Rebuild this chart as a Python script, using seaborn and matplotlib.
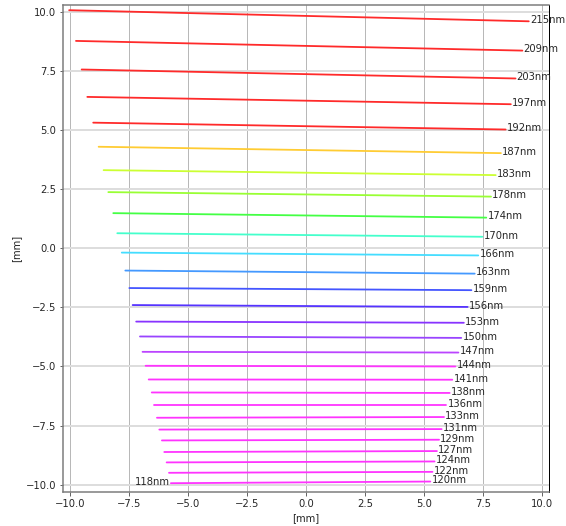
import matplotlib
matplotlib.use("Agg")
import matplotlib.pyplot as plt
import seaborn as sns
import pandas as pd

# wavelength label at the right end of each line
labels = ['215nm', '209nm', '203nm', '197nm', '192nm', '187nm', '183nm', '178nm',
          '174nm', '170nm', '166nm', '163nm', '159nm', '156nm', '153nm', '150nm',
          '147nm', '144nm', '141nm', '138nm', '136nm', '133nm', '131nm', '129nm',
          '127nm', '124nm', '122nm', '120nm']
x_start = [-10.04, -9.75, -9.51, -9.27, -9.02, -8.79, -8.58, -8.38, -8.17, -8.00,
           -7.81, -7.66, -7.49, -7.35, -7.20, -7.04, -6.93, -6.80, -6.67, -6.54,
           -6.43, -6.32, -6.22, -6.11, -6.01, -5.91, -5.81, -5.73]
y_start = [10.08, 8.78, 7.57, 6.41, 5.32, 4.30, 3.31, 2.38, 1.49, 0.64,
           -0.18, -0.94, -1.68, -2.40, -3.10, -3.73, -4.38, -4.97, -5.55, -6.10,
           -6.64, -7.17, -7.67, -8.13, -8.62, -9.06, -9.50, -9.94]
x_end = [9.43, 9.16, 8.87, 8.67, 8.45, 8.25, 8.03, 7.83, 7.63, 7.46,
         7.29, 7.14, 7.00, 6.84, 6.68, 6.57, 6.45, 6.32, 6.19, 6.08,
         5.94, 5.84, 5.74, 5.63, 5.54, 5.44, 5.35, 5.26]
y_end = [9.61, 8.37, 7.19, 6.10, 5.03, 4.03, 3.10, 2.19, 1.30, 0.49,
         -0.30, -1.07, -1.77, -2.48, -3.15, -3.79, -4.41, -5.00, -5.56, -6.12,
         -6.64, -7.14, -7.65, -8.10, -8.58, -9.02, -9.46, -9.87]
colors = ['#ff2a2a', '#ff2a2a', '#ff2a2a', '#ff2a2a', '#ff2a2a', '#ffcc33', '#ccff33',
          '#99ff33', '#44ff44', '#44ffcc', '#44ddff', '#4499ff', '#4455ff', '#5533ff',
          '#8833ff', '#9944ff', '#bb44ff', '#ff33ff', '#ff33ff', '#ff33ff', '#ff33ff',
          '#ff33ff', '#ff33ff', '#ff33ff', '#ff33ff', '#ff33ff', '#ff33ff', '#ff33ff']
left_label = '118nm'  # extra label at the start of the last line

rows = []
for i, lab in enumerate(labels):
    rows.append({'line': lab, 'x': x_start[i], 'y': y_start[i]})
    rows.append({'line': lab, 'x': x_end[i], 'y': y_end[i]})
df = pd.DataFrame(rows)

sns.set_style("white")
plt.rcParams['font.family'] = ['DejaVu Sans']

fig = plt.figure(figsize=(566 / 72, 526 / 72), dpi=72)
ax = fig.add_axes([63 / 566, 1 - 491.7 / 526, 486.3 / 566, 486.7 / 526])

sns.lineplot(data=df, x='x', y='y', hue='line', palette=dict(zip(labels, colors)),
             sort=False, estimator=None, legend=False, linewidth=1.8, ax=ax)

for i, lab in enumerate(labels):
    ax.text(x_end[i] + 0.05, y_end[i] + 0.05, lab, ha='left', va='center',
            fontsize=10, color='#262626')
ax.text(x_start[-1] - 0.05, y_start[-1] + 0.05, left_label, ha='right', va='center',
        fontsize=10, color='#262626')

ax.set_xlim(-10.3, 10.3)
ax.set_ylim(-10.3, 10.3)
ticks = [-10.0, -7.5, -5.0, -2.5, 0.0, 2.5, 5.0, 7.5, 10.0]
ax.set_xticks(ticks)
ax.set_yticks(ticks)
ax.set_xticklabels([f'{t:.1f}'.replace('-', '\u2212') for t in ticks])
ax.set_yticklabels([f'{t:.1f}'.replace('-', '\u2212') for t in ticks])
ax.tick_params(axis='both', which='both', direction='out', length=3.5, width=1,
               color='#666666', labelsize=10, labelcolor='#262626',
               bottom=True, left=True)

ax.xaxis.grid(True, color='#b8b8b8', linewidth=1)
ax.yaxis.grid(True, color='#dddddd', linewidth=2)
ax.set_axisbelow(True)

for side in ['left', 'top', 'bottom']:
    ax.spines[side].set_color('#7a7a7a')
    ax.spines[side].set_linewidth(1.5)
ax.spines['right'].set_color('black')
ax.spines['right'].set_linewidth(1)

ax.set_xlabel('[mm]', fontsize=10, color='#262626')
ax.set_ylabel('[mm]', fontsize=10, color='#262626')

fig.savefig('out.png', dpi=72)
